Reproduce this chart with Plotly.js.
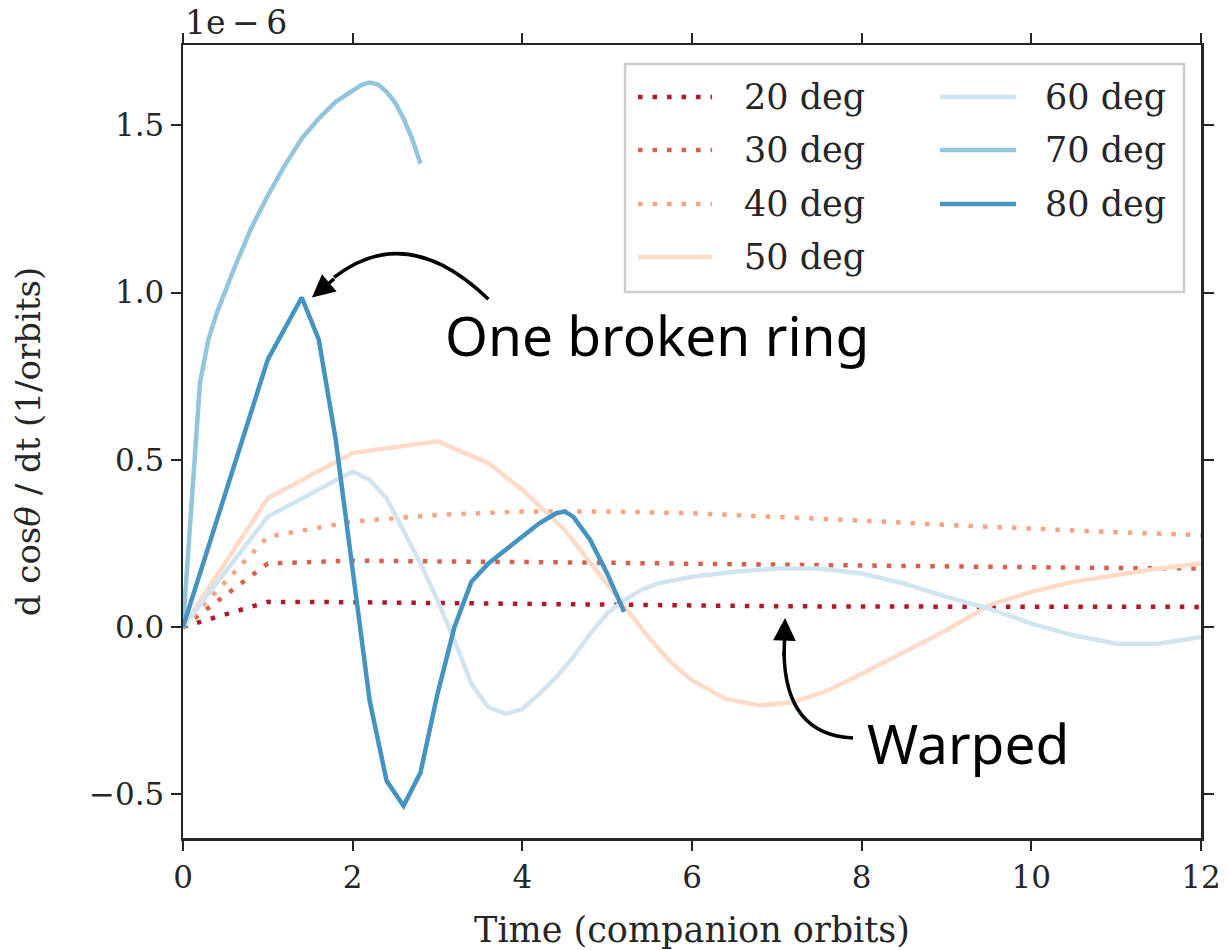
<!DOCTYPE html>
<html>
<head>
<meta charset="utf-8">
<script src="https://cdn.plot.ly/plotly-3.0.1.min.js"></script>
<style>html,body{margin:0;padding:0;background:#fff;}#chart{width:1229px;height:950px;}</style>
</head>
<body>
<div id="chart"></div>
<script>
// values in units of 1e-6 (1/orbits)
const names = ["20 deg","30 deg","40 deg","50 deg","60 deg","70 deg","80 deg"];
const colors = ["#b2182b","#d6604d","#f4a582","#fddbc7","#d1e5f0","#92c5de","#4393c3"];

const t20 = [0,1,2,3,4,5,6,7,8,9,10,11,12];
const v20 = [0,0.075,0.074,0.071,0.068,0.066,0.064,0.062,0.061,0.06,0.06,0.06,0.06];
const t30 = [0,1,2,3,4,5,6,7,8,9,10,11,12];
const v30 = [0,0.19,0.198,0.197,0.195,0.192,0.189,0.186,0.183,0.18,0.178,0.176,0.175];
const t40 = [0,1,2,3,4,5,6,7,8,9,10,11,12];
const v40 = [0,0.27,0.315,0.335,0.345,0.345,0.34,0.33,0.318,0.305,0.293,0.283,0.275];
const t50 = [0,1,2,3,3.6,4,4.5,5,5.25,5.5,5.75,6,6.4,6.8,7.2,7.6,8,8.5,9,9.5,10,10.5,11,11.5,12];
const v50 = [0,0.385,0.52,0.555,0.49,0.41,0.29,0.13,0.045,-0.035,-0.105,-0.16,-0.215,-0.235,-0.225,-0.19,-0.14,-0.075,-0.01,0.065,0.105,0.135,0.155,0.175,0.19];
const t60 = [0,1,2,2.2,2.4,2.6,2.8,3.0,3.2,3.4,3.6,3.8,4.0,4.2,4.4,4.6,4.8,5.0,5.2,5.4,5.6,5.8,6.0,6.5,7,7.5,8,8.5,9,9.5,10,10.5,11,11.5,12];
const v60 = [0,0.33,0.465,0.44,0.385,0.29,0.19,0.08,-0.04,-0.17,-0.24,-0.26,-0.245,-0.2,-0.15,-0.09,-0.02,0.04,0.08,0.11,0.13,0.14,0.15,0.165,0.175,0.175,0.16,0.13,0.09,0.055,0.01,-0.025,-0.05,-0.05,-0.03];
const t70 = [0,0.2,0.3,0.4,0.6,0.8,1.0,1.2,1.4,1.6,1.8,2.0,2.1,2.2,2.3,2.4,2.5,2.6,2.7,2.8];
const v70 = [0,0.73,0.86,0.94,1.07,1.19,1.29,1.38,1.46,1.52,1.57,1.605,1.62,1.628,1.622,1.6,1.568,1.52,1.46,1.385];
const t80 = [0,1,1.4,1.6,1.8,2.0,2.2,2.4,2.6,2.8,3.0,3.2,3.4,3.6,3.8,4.0,4.2,4.4,4.5,4.6,4.8,5.0,5.2];
const v80 = [0,0.8,0.985,0.86,0.56,0.17,-0.22,-0.46,-0.535,-0.435,-0.2,0.0,0.135,0.19,0.23,0.27,0.31,0.34,0.345,0.33,0.26,0.16,0.045];

const xTicks = [0,2,4,6,8,10,12];
const yTicks = [-0.5,0.0,0.5,1.0,1.5];

const ts = [t20,t30,t40,t50,t60,t70,t80];
const vs = [v20,v30,v40,v50,v60,v70,v80];
const DOT = "4.5px,10px";
const dashes = [DOT,DOT,DOT,"solid","solid","solid","solid"];
const LW = 4.5;

const traces = names.map((n,i)=>({
  x: ts[i], y: vs[i], name: n, mode: "lines", type: "scatter",
  line: {color: colors[i], width: LW, dash: dashes[i], shape: "linear"},
  showlegend: false, hoverinfo: "skip"
}));

const serif = "DejaVu Serif, serif";
const sans = "Noto Sans, Open Sans, sans-serif";
const axisColor = "#262626";

// manual two-column legend (column-major like the original)
const legBox = {x0: 0.4342, x1: 0.9833, y0: 0.6885, y1: 0.976};
const rowY = [0.9344, 0.8676, 0.7995, 0.7327];
const cols = [{l0: 0.4470, l1: 0.5197, tx: 0.5491}, {l0: 0.7436, l1: 0.8183, tx: 0.8448}];
const legShapes = [{type: "rect", xref: "paper", yref: "paper", x0: legBox.x0, x1: legBox.x1, y0: legBox.y0, y1: legBox.y1,
  line: {color: "#cccccc", width: 2.5}, fillcolor: "rgba(255,255,255,0.85)", layer: "above"}];
const legAnn = [];
names.forEach((n,i)=>{
  const c = i < 4 ? cols[0] : cols[1];
  const r = i < 4 ? i : i - 4;
  legShapes.push({type: "line", xref: "paper", yref: "paper", x0: c.l0, x1: c.l1, y0: rowY[r], y1: rowY[r],
    line: {color: colors[i], width: LW, dash: dashes[i]}, layer: "above"});
  legAnn.push({xref: "paper", yref: "paper", x: c.tx, y: rowY[r], xanchor: "left", yanchor: "middle",
    text: n, showarrow: false, font: {family: serif, size: 35, color: axisColor}});
});

const layout = {
  width: 1229, height: 950,
  margin: {l: 183, r: 28, t: 45, b: 112},
  paper_bgcolor: "#fff", plot_bgcolor: "#fff",
  showlegend: false,
  xaxis: {
    range: [0, 12], tickvals: xTicks, ticktext: xTicks.map(String),
    showline: true, linecolor: axisColor, linewidth: 2.5, mirror: "ticks",
    ticks: "outside", ticklen: 10, tickwidth: 2, tickcolor: axisColor,
    showgrid: false, zeroline: false,
    tickfont: {family: serif, size: 31, color: axisColor},
    title: {text: "Time (companion orbits)", font: {family: serif, size: 35, color: axisColor}, standoff: 24}
  },
  yaxis: {
    range: [-0.631, 1.74], tickvals: yTicks, ticktext: yTicks.map(v=>(v<0?"\u2212":"")+Math.abs(v).toFixed(1)),
    showline: true, linecolor: axisColor, linewidth: 2.5, mirror: "ticks",
    ticks: "outside", ticklen: 10, tickwidth: 2, tickcolor: axisColor,
    showgrid: false, zeroline: false,
    tickfont: {family: serif, size: 31, color: axisColor},
    title: {text: "d cos<i>θ</i> / dt (1/orbits)", font: {family: serif, size: 34, color: axisColor}, standoff: 38}
  },
  shapes: [
    {type: "path", xref: "x", yref: "y", path: "M 3.6,0.98 Q 2.64,1.215 1.78,1.045",
     line: {color: "#000", width: 3.5}},
    {type: "path", xref: "x", yref: "y", path: "M 7.898,-0.332 Q 7.097,-0.323 7.085,-0.075",
     line: {color: "#000", width: 3.5}}
  ].concat(legShapes),
  annotations: [
    {xref: "paper", yref: "paper", x: 0.0, y: 1.0, xanchor: "left", yanchor: "bottom", yshift: 1,
     text: "1e\u2009\u2212\u20096", showarrow: false, font: {family: serif, size: 33, color: axisColor}},
    {xref: "x", yref: "y", x: 5.59, y: 0.873, text: "One broken ring", showarrow: false,
     font: {family: sans, size: 55, color: "#000"}},
    {xref: "x", yref: "y", x: 9.25, y: -0.344, text: "Warped", showarrow: false,
     font: {family: sans, size: 55, color: "#000"}},
    {xref: "x", yref: "y", axref: "x", ayref: "y", x: 1.52, y: 0.985, ax: 1.8, ay: 1.045,
     text: "", showarrow: true, arrowhead: 2, arrowsize: 1.3, arrowwidth: 3.5, arrowcolor: "#000", standoff: 0},
    {xref: "x", yref: "y", axref: "x", ayref: "y", x: 7.097, y: 0.027, ax: 7.085, ay: -0.09,
     text: "", showarrow: true, arrowhead: 2, arrowsize: 1.3, arrowwidth: 3.5, arrowcolor: "#000", standoff: 0}
  ].concat(legAnn)
};

Plotly.newPlot("chart", traces, layout, {displayModeBar: false, staticPlot: true});
</script>
</body>
</html>
